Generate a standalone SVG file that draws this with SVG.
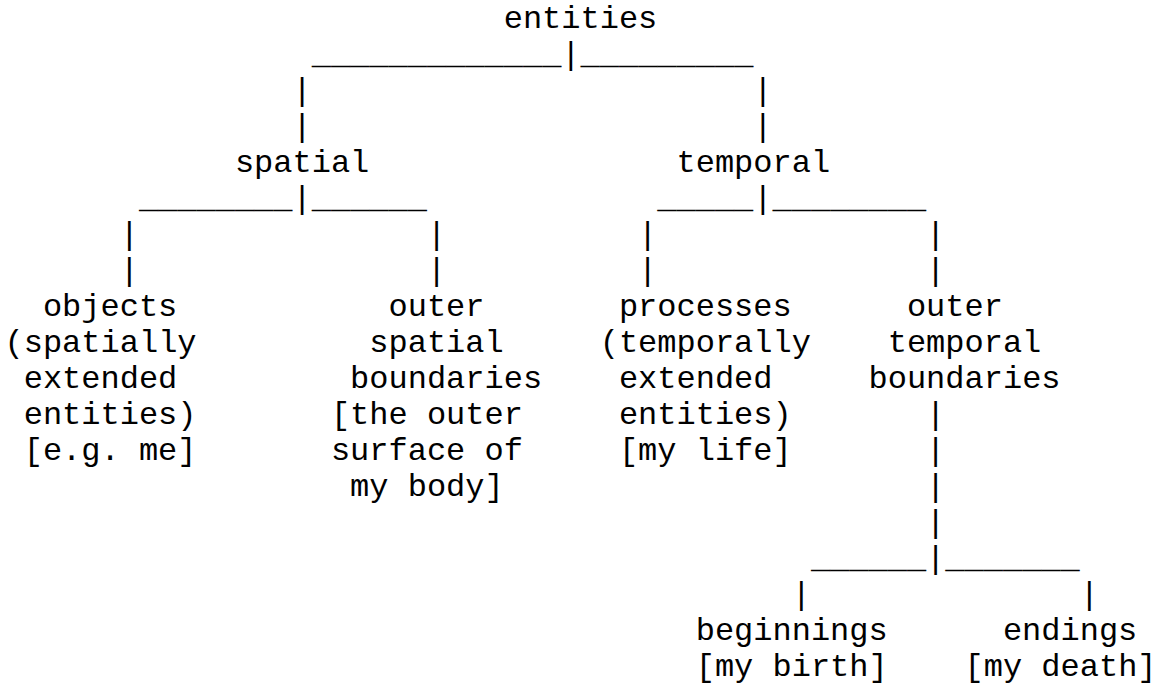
<svg xmlns="http://www.w3.org/2000/svg" width="1157" height="687" viewBox="0 0 1157 687">
<style>
text { font-family: "Liberation Mono", "Courier New", monospace; font-size: 32px; fill: #000; white-space: pre; }
</style>
<rect x="0" y="0" width="1157" height="687" fill="#fff"/>
<g id="connectors">
  <text x="311.7" y="64">_____________|_________</text>
  <text x="292.5" y="100">|</text><text x="753.3" y="100">|</text>
  <text x="292.5" y="136">|</text><text x="753.3" y="136">|</text>
  <text x="138.9" y="208">________|______</text>
  <text x="657.3" y="208">_____|________</text>
  <text x="119.7" y="244">|</text><text x="426.9" y="244">|</text><text x="638.1" y="244">|</text><text x="926.1" y="244">|</text>
  <text x="119.7" y="280">|</text><text x="426.9" y="280">|</text><text x="638.1" y="280">|</text><text x="926.1" y="280">|</text>
  <text x="926.1" y="424">|</text>
  <text x="926.1" y="460">|</text>
  <text x="926.1" y="496">|</text>
  <text x="926.1" y="532">|</text>
  <text x="810.9" y="568">______|_______</text>
  <text x="791.7" y="604">|</text><text x="1079.7" y="604">|</text>
</g>
<g id="node-entities">
  <text x="503.7" y="28">entities</text>
</g>
<g id="node-spatial">
  <text x="234.9" y="172">spatial</text>
</g>
<g id="node-temporal">
  <text x="676.5" y="172">temporal</text>
</g>
<g id="node-objects">
  <text x="42.9" y="316">objects</text>
  <text x="4.5" y="352">(spatially</text>
  <text x="23.7" y="388">extended</text>
  <text x="23.7" y="424">entities)</text>
  <text x="23.7" y="460">[e.g. me]</text>
</g>
<g id="node-outer-spatial">
  <text x="388.5" y="316">outer</text>
  <text x="369.3" y="352">spatial</text>
  <text x="350.1" y="388">boundaries</text>
  <text x="330.9" y="424">[the outer</text>
  <text x="330.9" y="460">surface of</text>
  <text x="350.1" y="496">my body]</text>
</g>
<g id="node-processes">
  <text x="618.9" y="316">processes</text>
  <text x="599.7" y="352">(temporally</text>
  <text x="618.9" y="388">extended</text>
  <text x="618.9" y="424">entities)</text>
  <text x="618.9" y="460">[my life]</text>
</g>
<g id="node-outer-temporal">
  <text x="906.9" y="316">outer</text>
  <text x="887.7" y="352">temporal</text>
  <text x="868.5" y="388">boundaries</text>
</g>
<g id="node-beginnings">
  <text x="695.7" y="640">beginnings</text>
  <text x="695.7" y="676">[my birth]</text>
</g>
<g id="node-endings">
  <text x="1002.9" y="640">endings</text>
  <text x="964.5" y="676">[my death]</text>
</g>
</svg>
